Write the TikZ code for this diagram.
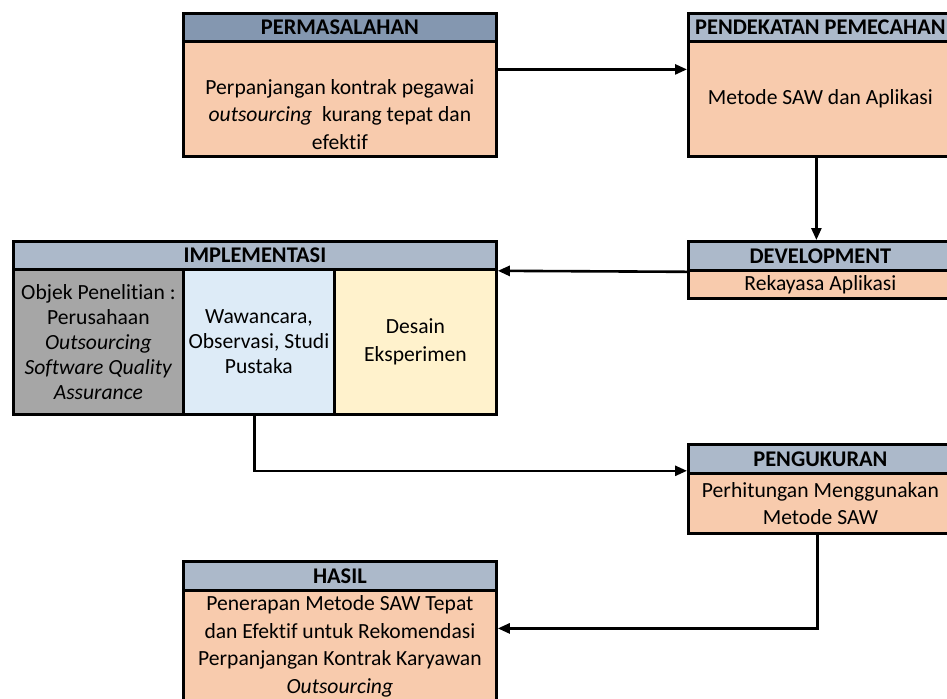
\documentclass[tikz,border=0pt]{standalone}
\usepackage{fontspec}
\setmainfont{Carlito}[Ligatures=NoCommon]
\usetikzlibrary{arrows.meta}
\definecolor{headdark}{HTML}{8497B0}
\definecolor{headgray}{HTML}{ACB9CA}
\definecolor{peach}{HTML}{F8CBAD}
\definecolor{objgray}{HTML}{A6A6A6}
\definecolor{paleblue}{HTML}{DDEBF7}
\definecolor{paleyellow}{HTML}{FFF2CC}
\tikzset{
  cell/.style={draw, line width=1.4pt, inner sep=0pt, anchor=north west, align=center},
  head/.style={cell, fill=headgray, font=\fontsize{11.2}{13.8}\selectfont\bfseries, minimum height=14pt},
  body/.style={cell, fill=peach},
  flow/.style={line width=1.3pt, -{Triangle[length=6pt,width=5pt]}}
}
\begin{document}
\begin{tikzpicture}[x=0.5pt,y=-0.5pt,font=\fontsize{10.8}{13.8}\selectfont]
\useasboundingbox (0,0) rectangle (947,698);
\node[head, fill=headdark, minimum width=156.5pt] (perm-head) at (182,12) {PERMASALAHAN};
\node[body, minimum width=156.5pt, minimum height=57.5pt] (perm) at (182,40) {};
\node[anchor=south, align=center, inner sep=0pt] (perm-text) at ([yshift=4pt]perm.south)
  {Perpanjangan kontrak pegawai\\ \textit{outsourcing}\ \ kurang tepat dan\\ efektif};
\node[head, minimum width=132pt] (pend-head) at (687,12) {PENDEKATAN PEMECAHAN};
\node[body, minimum width=132pt, minimum height=57.5pt] (pend) at (687,40) {Metode SAW dan Aplikasi};
\node[head, minimum width=132pt, minimum height=14.5pt] (dev-head) at (687,240) {DEVELOPMENT};
\node[body, minimum width=132pt, minimum height=14pt] (dev) at (687,269) {Rekayasa Aplikasi};
\node[head, minimum width=241.5pt] (impl-head) at (12,240) {IMPLEMENTASI};
\node[cell, fill=objgray, minimum width=85pt, minimum height=72.5pt, font=\fontsize{10.8}{12.5}\selectfont] (obj) at (12,268)
  {Objek Penelitian :\\ Perusahaan\\ \textit{Outsourcing}\\ \textit{Software Quality}\\ \textit{Assurance}};
\node[cell, fill=paleblue, minimum width=75.5pt, minimum height=72.5pt, font=\fontsize{10.8}{12.5}\selectfont] (obs) at (182,268)
  {Wawancara,\\ Observasi, Studi\\ Pustaka};
\node[cell, fill=paleyellow, minimum width=81pt, minimum height=72.5pt] (eks) at (333,268) {Desain\\ Eksperimen};
\node[head, minimum width=132pt, minimum height=14.5pt] (peng-head) at (687,443) {PENGUKURAN};
\node[body, minimum width=132pt, minimum height=30pt] (peng) at (687,472) {Perhitungan Menggunakan\\ Metode SAW};
\node[head, minimum width=156.5pt, minimum height=14.5pt] (hasil-head) at (182,560) {HASIL};
\node[body, minimum width=156.5pt, minimum height=56pt] (hasil) at (182,589)
  {Penerapan Metode SAW Tepat\\ dan Efektif untuk Rekomendasi\\ Perpanjangan Kontrak Karyawan\\ \textit{Outsourcing}};
\draw[flow] ([yshift=14.75pt]perm.east) -- ([yshift=14.75pt]pend.west);
\draw[flow] ([xshift=-2pt]pend.south) -- ([xshift=-2pt]dev-head.north);
\draw[flow] (dev-head.south west) -- (impl-head.south east);
\draw[flow] ([xshift=-2.25pt]obs.south) |- ([yshift=2pt]peng-head.south west);
\draw[flow] ([xshift=-1.6pt]peng.south) |- ([yshift=9pt]hasil.east);
\end{tikzpicture}
\end{document}
